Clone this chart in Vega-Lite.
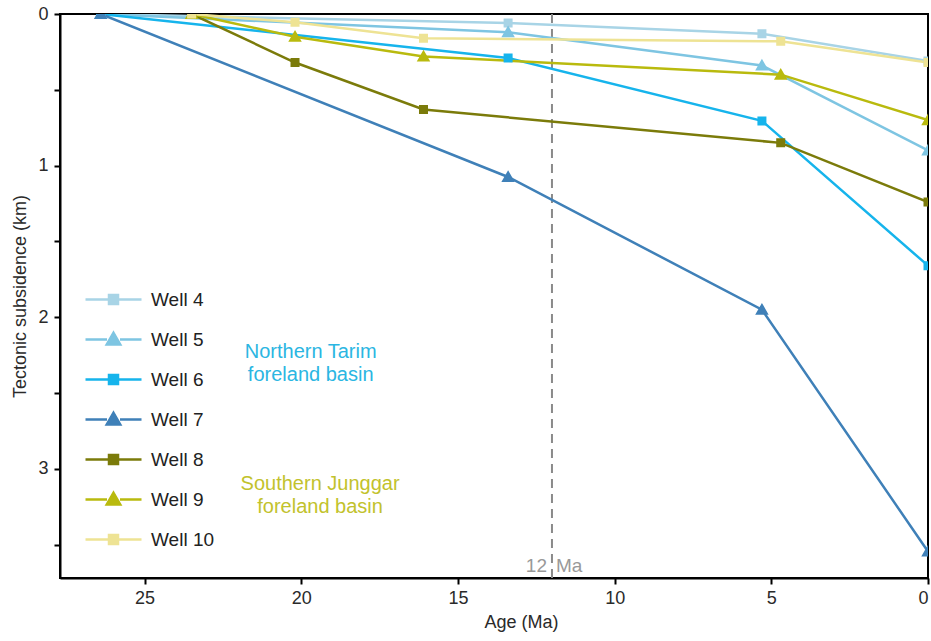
{
  "$schema": "https://vega.github.io/schema/vega-lite/v6.json",
  "width": 868,
  "height": 564,
  "autosize": {"type": "none"},
  "padding": {"left": 60, "top": 14, "right": 3, "bottom": 63},
  "background": "white",
  "config": {
    "view": {"stroke": "black", "strokeWidth": 2},
    "font": "Liberation Sans",
    "axis": {
      "domainColor": "black",
      "domainWidth": 2,
      "tickColor": "black",
      "tickWidth": 2,
      "tickSize": 6,
      "grid": false,
      "labelFontSize": 18,
      "labelColor": "#2a2a2a",
      "labelFont": "Liberation Sans",
      "titleFontSize": 18,
      "titleFontWeight": "normal",
      "titleColor": "#2a2a2a",
      "titleFont": "Liberation Sans"
    },
    "legend": {"symbolStrokeWidth": 2.5}
  },
  "datasets": {
    "wells": [
      {"well": "Well 4", "age": 26.4, "sub": 0},
      {"well": "Well 4", "age": 13.4, "sub": 0.06},
      {"well": "Well 4", "age": 5.3, "sub": 0.13},
      {"well": "Well 4", "age": 0, "sub": 0.31},
      {"well": "Well 5", "age": 26.4, "sub": 0},
      {"well": "Well 5", "age": 13.4, "sub": 0.12},
      {"well": "Well 5", "age": 5.3, "sub": 0.34},
      {"well": "Well 5", "age": 0, "sub": 0.9},
      {"well": "Well 6", "age": 26.4, "sub": 0},
      {"well": "Well 6", "age": 13.4, "sub": 0.29},
      {"well": "Well 6", "age": 5.3, "sub": 0.705},
      {"well": "Well 6", "age": 0, "sub": 1.66},
      {"well": "Well 7", "age": 26.4, "sub": 0},
      {"well": "Well 7", "age": 13.4, "sub": 1.075},
      {"well": "Well 7", "age": 5.3, "sub": 1.95},
      {"well": "Well 7", "age": 0, "sub": 3.545},
      {"well": "Well 8", "age": 23.5, "sub": 0},
      {"well": "Well 8", "age": 20.2, "sub": 0.32},
      {"well": "Well 8", "age": 16.1, "sub": 0.63},
      {"well": "Well 8", "age": 4.7, "sub": 0.85},
      {"well": "Well 8", "age": 0, "sub": 1.24},
      {"well": "Well 9", "age": 23.5, "sub": 0},
      {"well": "Well 9", "age": 20.2, "sub": 0.15},
      {"well": "Well 9", "age": 16.1, "sub": 0.28},
      {"well": "Well 9", "age": 4.7, "sub": 0.4},
      {"well": "Well 9", "age": 0, "sub": 0.7},
      {"well": "Well 10", "age": 23.5, "sub": 0},
      {"well": "Well 10", "age": 20.2, "sub": 0.055},
      {"well": "Well 10", "age": 16.1, "sub": 0.16},
      {"well": "Well 10", "age": 4.7, "sub": 0.18},
      {"well": "Well 10", "age": 0, "sub": 0.32}
    ],
    "labels": [
      {"text": "Northern Tarim", "age": 19.7, "sub": 2.23, "group": "N"},
      {"text": "foreland basin", "age": 19.7, "sub": 2.38, "group": "N"},
      {"text": "Southern Junggar", "age": 19.4, "sub": 3.1, "group": "S"},
      {"text": "foreland basin", "age": 19.4, "sub": 3.25, "group": "S"}
    ]
  },
  "layer": [
    {
      "data": {"values": [{"age": 12}]},
      "mark": {"type": "rule", "color": "#8a8a8a", "strokeWidth": 2, "strokeDash": [9, 6]},
      "encoding": {
        "x": {"field": "age", "type": "quantitative", "scale": {"domain": [0, 27.7], "reverse": true, "nice": false, "zero": false}}
      }
    },
    {
      "data": {"values": [{"age": 12, "sub": 3.64, "t": "12"}]},
      "mark": {"type": "text", "align": "right", "dx": -5, "baseline": "middle", "fontSize": 19, "color": "#999999"},
      "encoding": {
        "x": {"field": "age", "type": "quantitative"},
        "y": {"field": "sub", "type": "quantitative"},
        "text": {"field": "t"}
      }
    },
    {
      "data": {"values": [{"age": 12, "sub": 3.64, "t": "Ma"}]},
      "mark": {"type": "text", "align": "left", "dx": 4, "baseline": "middle", "fontSize": 19, "color": "#999999"},
      "encoding": {
        "x": {"field": "age", "type": "quantitative"},
        "y": {"field": "sub", "type": "quantitative"},
        "text": {"field": "t"}
      }
    },
    {
      "data": {"name": "wells"},
      "mark": {"type": "line", "strokeWidth": 2.5, "clip": true},
      "encoding": {
        "x": {
          "field": "age", "type": "quantitative",
          "scale": {"domain": [0, 27.7], "reverse": true, "nice": false, "zero": false},
          "axis": {"values": [0, 5, 10, 15, 20, 25], "title": "Age (Ma)", "labelPadding": 5, "titlePadding": 6, "titleX": 461}
        },
        "y": {
          "field": "sub", "type": "quantitative",
          "scale": {"domain": [0, 3.72], "reverse": true, "nice": false, "zero": false},
          "axis": {"values": [0, 0.5, 1, 1.5, 2, 2.5, 3, 3.5], "labelExpr": "datum.value % 1 === 0 ? format(datum.value, 'd') : ''", "title": "Tectonic subsidence (km)", "labelPadding": 6, "titlePadding": 8}
        },
        "color": {
          "field": "well", "type": "nominal", "legend": null,
          "scale": {
            "domain": ["Well 4", "Well 5", "Well 6", "Well 7", "Well 8", "Well 9", "Well 10"],
            "range": ["#a8d4e6", "#7ec5e2", "#16b4ec", "#3f80b8", "#7b7b0a", "#b9ba0e", "#eee394"]
          }
        },
        "detail": {"field": "well"}
      }
    },
    {
      "data": {"name": "wells"},
      "mark": {"type": "point", "filled": true, "size": 100, "strokeWidth": 0, "opacity": 1, "clip": true},
      "encoding": {
        "x": {"field": "age", "type": "quantitative"},
        "y": {"field": "sub", "type": "quantitative"},
        "fill": {
          "field": "well", "type": "nominal",
          "scale": {
            "domain": ["Well 4", "Well 5", "Well 6", "Well 7", "Well 8", "Well 9", "Well 10"],
            "range": ["#a8d4e6", "#7ec5e2", "#16b4ec", "#3f80b8", "#7b7b0a", "#b9ba0e", "#eee394"]
          },
          "legend": {
            "title": null,
            "orient": "none",
            "legendX": 44,
            "legendY": 276,
            "labelFontSize": 19,
            "labelColor": "#222222",
            "labelFont": "Liberation Sans",
            "labelOffset": 28,
            "rowPadding": 17,
            "symbolStrokeWidth": 2.5,
            "encode": {"symbols": {"strokeWidth": {"value": 2.5}, "opacity": {"value": 1}}}
          }
        },
        "stroke": {
          "field": "well", "type": "nominal",
          "scale": {
            "domain": ["Well 4", "Well 5", "Well 6", "Well 7", "Well 8", "Well 9", "Well 10"],
            "range": ["#a8d4e6", "#7ec5e2", "#16b4ec", "#3f80b8", "#7b7b0a", "#b9ba0e", "#eee394"]
          },
          "legend": {
            "title": null,
            "orient": "none",
            "legendX": 44,
            "legendY": 276,
            "labelFontSize": 19,
            "labelColor": "#222222",
            "labelFont": "Liberation Sans",
            "labelOffset": 28,
            "rowPadding": 17,
            "symbolStrokeWidth": 2.5,
            "encode": {"symbols": {"strokeWidth": {"value": 2.5}, "opacity": {"value": 1}}}
          }
        },
        "shape": {
          "field": "well", "type": "nominal",
          "scale": {
            "domain": ["Well 4", "Well 5", "Well 6", "Well 7", "Well 8", "Well 9", "Well 10"],
            "range": [
              "M0,-1.35L0,-1.35M0,1.0L0,1.0M-5.6,0H-0.9M0.9,0H5.6M-0.9,-0.9H0.9V0.9H-0.9Z",
              "M-5.6,0H-1.3M1.3,0H5.6M0,-1.35L1.35,1.0L-1.35,1.0Z",
              "M0,-1.35L0,-1.35M0,1.0L0,1.0M-5.6,0H-0.9M0.9,0H5.6M-0.9,-0.9H0.9V0.9H-0.9Z",
              "M-5.6,0H-1.3M1.3,0H5.6M0,-1.35L1.35,1.0L-1.35,1.0Z",
              "M0,-1.35L0,-1.35M0,1.0L0,1.0M-5.6,0H-0.9M0.9,0H5.6M-0.9,-0.9H0.9V0.9H-0.9Z",
              "M-5.6,0H-1.3M1.3,0H5.6M0,-1.35L1.35,1.0L-1.35,1.0Z",
              "M0,-1.35L0,-1.35M0,1.0L0,1.0M-5.6,0H-0.9M0.9,0H5.6M-0.9,-0.9H0.9V0.9H-0.9Z"
            ]
          },
          "legend": {
            "title": null,
            "orient": "none",
            "legendX": 44,
            "legendY": 276,
            "labelFontSize": 19,
            "labelColor": "#222222",
            "labelFont": "Liberation Sans",
            "labelOffset": 28,
            "rowPadding": 17,
            "symbolStrokeWidth": 2.5,
            "encode": {"symbols": {"strokeWidth": {"value": 2.5}, "opacity": {"value": 1}}}
          }
        }
      }
    },
    {
      "data": {"name": "labels"},
      "mark": {"type": "text", "fontSize": 20, "align": "center", "baseline": "middle"},
      "encoding": {
        "x": {"field": "age", "type": "quantitative"},
        "y": {"field": "sub", "type": "quantitative"},
        "text": {"field": "text"},
        "color": {"field": "group", "type": "nominal", "legend": null, "scale": {"domain": ["N", "S"], "range": ["#2bb6e2", "#c2c22c"]}}
      }
    }
  ],
  "resolve": {"scale": {"color": "independent"}}
}
